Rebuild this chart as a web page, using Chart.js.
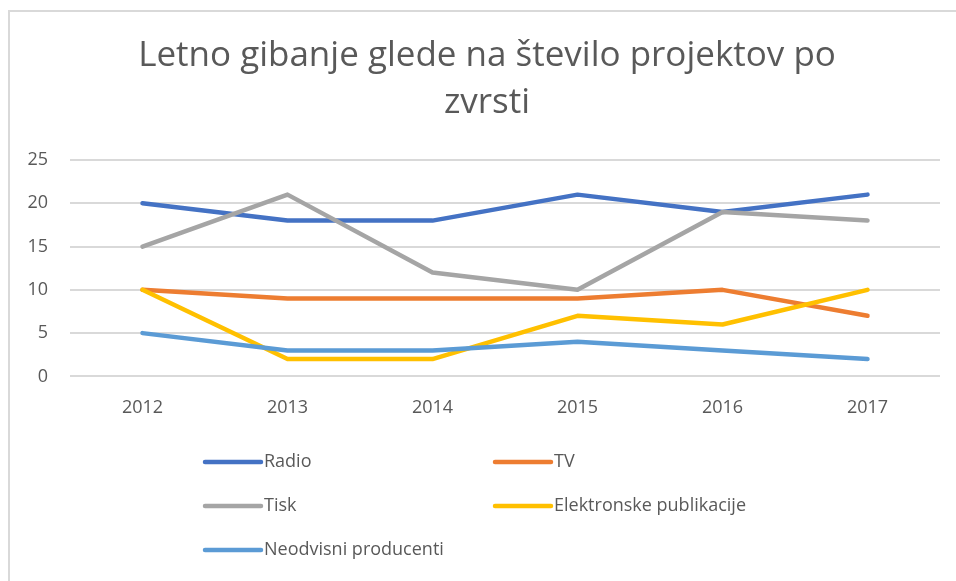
<!DOCTYPE html>
<html>
<head>
<meta charset="utf-8">
<script src="https://cdn.jsdelivr.net/npm/chart.js@4"></script>
<style>
  html, body { margin: 0; padding: 0; background: #fff; overflow: hidden; }
  #frame {
    position: absolute; left: 8px; top: 10px;
    width: 946px; height: 569px; overflow: hidden;
    border-left: 2px solid #d9d9d9; border-top: 2px solid #d9d9d9;
  }
</style>
</head>
<body>
<div id="frame"><canvas id="chart" width="962" height="569"></canvas></div>
<script>
// data
const years = ['2012', '2013', '2014', '2015', '2016', '2017'];
const radio = [20, 18, 18, 21, 19, 21];
const tv = [10, 9, 9, 9, 10, 7];
const tisk = [15, 21, 12, 10, 19, 18];
const elektronske = [10, 2, 2, 7, 6, 10];
const neodvisni = [5, 3, 3, 4, 3, 2];
const seriesNames = ['Radio', 'TV', 'Tisk', 'Elektronske publikacije', 'Neodvisni producenti'];
const seriesColors = ['#4472C4', '#ED7D31', '#A5A5A5', '#FFC000', '#5B9BD5'];
const yTicks = [0, 5, 10, 15, 20, 25];

const textGray = '#595959';
const gridColor = '#d9d9d9';
const font = 'Open Sans';

// legend drawn in two columns like the office chart
const gridLegend = {
    id: 'gridLegend',
    afterDraw(chart) {
        const c = chart.ctx;
        const cols = [195, 485];
        const rows = [450, 494, 538];
        c.save();
        c.font = '18px "' + font + '"';
        c.textBaseline = 'middle';
        chart.data.datasets.forEach((ds, i) => {
            const x = cols[i % 2];
            const y = rows[Math.floor(i / 2)];
            c.strokeStyle = ds.borderColor;
            c.lineWidth = 4.5;
            c.lineCap = 'round';
            c.beginPath();
            c.moveTo(x, y);
            c.lineTo(x + 56, y);
            c.stroke();
            c.fillStyle = textGray;
            c.fillText(ds.label, x + 59, y);
        });
        c.restore();
    }
};

const allValues = [radio, tv, tisk, elektronske, neodvisni];

new Chart(document.getElementById('chart'), {
    type: 'line',
    data: {
        labels: years,
        datasets: allValues.map((vals, i) => ({
            label: seriesNames[i],
            data: vals,
            borderColor: seriesColors[i],
            backgroundColor: seriesColors[i],
            borderWidth: 4.5,
            borderCapStyle: 'round',
            borderJoinStyle: 'round',
            pointRadius: 0,
            tension: 0,
            order: allValues.length - i
        }))
    },
    options: {
        responsive: false,
        animation: false,
        layout: { padding: { left: 0, right: 8, top: 0, bottom: 141 } },
        plugins: {
            legend: { display: false },
            tooltip: { enabled: false },
            title: {
                display: true,
                text: ['Letno gibanje glede na število projektov po', 'zvrsti'],
                color: textGray,
                font: { family: font, size: 35, weight: 'normal', lineHeight: 1.343 },
                padding: { top: 21, bottom: 33 }
            }
        },
        scales: {
            x: {
                offset: true,
                grid: { display: false, drawTicks: false },
                border: { display: false },
                ticks: { color: textGray, font: { family: font, size: 18 }, padding: 21 }
            },
            y: {
                min: 0,
                max: 25,
                afterFit(scale) { scale.width = 60; },
                afterBuildTicks(scale) { scale.ticks = yTicks.map(v => ({ value: v })); },
                grid: { color: gridColor, lineWidth: 2, drawTicks: false },
                border: { display: false },
                ticks: { color: textGray, font: { family: font, size: 18 }, padding: 22 }
            },
            // empty right axis, only keeps the plot area clear of the right edge
            yRight: {
                position: 'right',
                min: 0,
                max: 25,
                afterFit(scale) { scale.width = 24; },
                grid: { display: false, drawTicks: false },
                border: { display: false },
                ticks: { display: false }
            }
        }
    },
    plugins: [gridLegend]
});
</script>
</body>
</html>
